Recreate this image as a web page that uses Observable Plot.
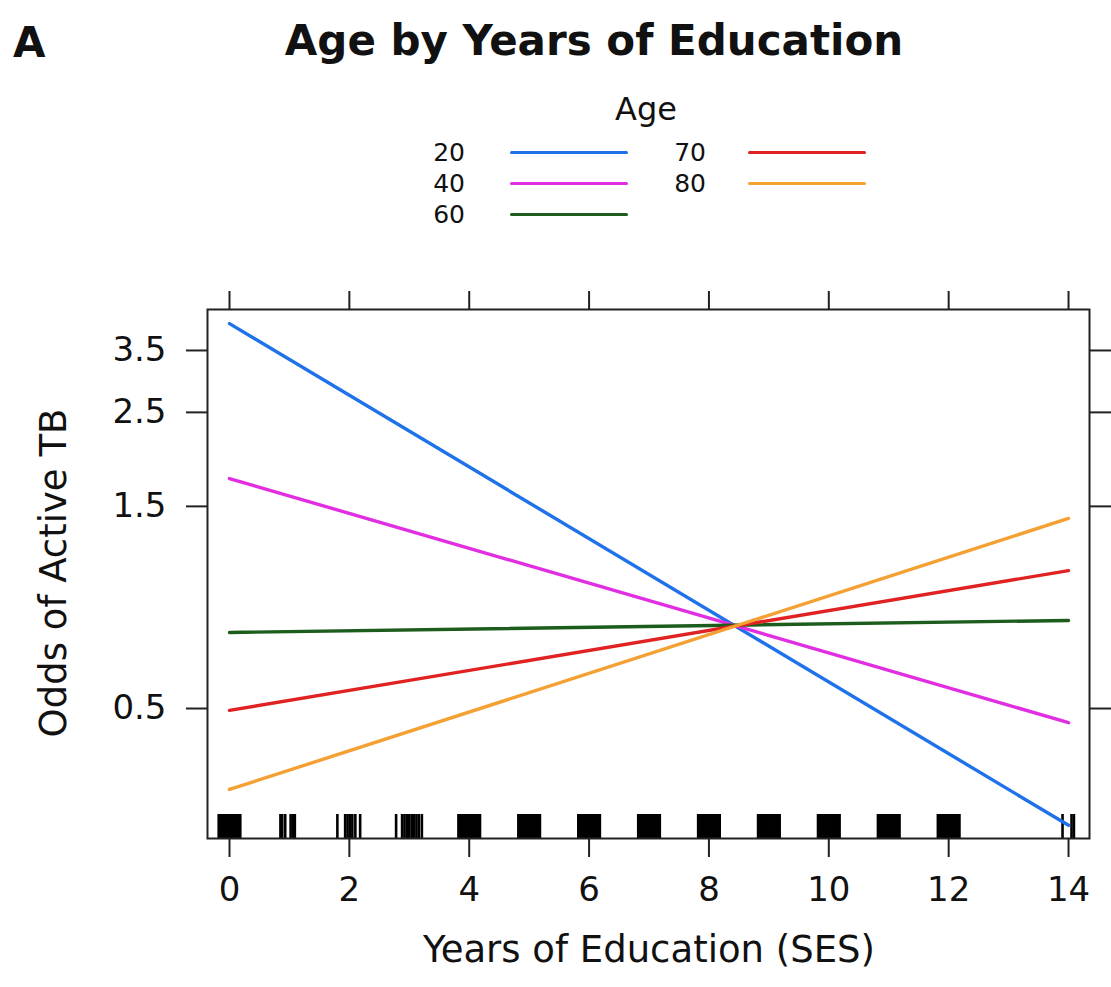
<!DOCTYPE html>
<html>
<head>
<meta charset="utf-8">
<script src="https://cdn.jsdelivr.net/npm/d3@7"></script>
<script src="https://cdn.jsdelivr.net/npm/@observablehq/plot@0.6"></script>
<style>
  html, body { margin: 0; padding: 0; background: #fff; }
  body { width: 1111px; height: 987px; position: relative; overflow: hidden; font-family: "DejaVu Sans", sans-serif; color: #111; }
  .abs { position: absolute; line-height: 1; white-space: nowrap; z-index: 2; }
  #chart { position: absolute; left: 0; top: 280px; z-index: 1; }
</style>
</head>
<body>
<div id="chart"></div>
<div class="abs" id="panel" style="left:13px; top:22px; font-size:42px; font-weight:bold;">A</div>
<div class="abs" id="title" style="left:594px; top:20px; font-size:42px; font-weight:bold; transform:translateX(-50%);">Age by Years of Education</div>
<div class="abs" id="legendTitle" style="left:646px; top:93px; font-size:32px; transform:translateX(-50%);">Age</div>
<div id="legend"></div>
<div class="abs" id="ylab" style="left:53px; top:573px; font-size:37px; transform:translate(-50%,-50%) rotate(-90deg);">Odds of Active TB</div>
<div class="abs" id="xlab" style="left:649px; top:931px; font-size:37px; transform:translateX(-50%);">Years of Education (SES)</div>
<script>
// ---- data ----
const ages = ["20", "40", "60", "70", "80"];
const ageColors = ["#1f72ea", "#e22ee2", "#1c5c1c", "#e02222", "#f5a033"];
const oddsAtZeroYears = [4.05, 1.745, 0.756, 0.495, 0.322];
const oddsAtFourteenYears = [0.265, 0.463, 0.807, 1.058, 1.405];
const educationEnds = [0, 14];
const xTicks = [0, 2, 4, 6, 8, 10, 12, 14];
const yTicks = [0.5, 1.5, 2.5, 3.5];
// rug: years of education of observations (jittered)
const rugYearsSolid = [0, 4, 5, 6, 7, 8, 9, 10, 11, 12];
const rugJitter = [-0.18, -0.15, -0.12, -0.09, -0.06, -0.03, 0, 0.03, 0.06, 0.09, 0.12, 0.15, 0.18];
const rugSparse = [0.85, 0.88, 0.93, 1.02, 1.06, 1.09,
                   1.80, 1.93, 1.97, 2.01, 2.05, 2.10, 2.18,
                   2.78, 2.88, 2.92, 2.96, 3.00, 3.04, 3.08, 3.12, 3.16, 3.21,
                   13.90, 14.05, 14.09];

// ---- build tables ----
const rows = ages.flatMap((a, i) => [
  {age: a, edu: educationEnds[0], odds: oddsAtZeroYears[i]},
  {age: a, edu: educationEnds[1], odds: oddsAtFourteenYears[i]}
]);
const rug = rugYearsSolid.flatMap(y => rugJitter.map(j => y + j)).concat(rugSparse);

// ---- legend (HTML) ----
const legend = document.getElementById("legend");
const legendCols = [{labelRight: 465, lineX: 510}, {labelRight: 706, lineX: 748}];
const legendRowsY = [152, 183, 214];
ages.forEach((a, i) => {
  const col = legendCols[i < 3 ? 0 : 1];
  const ry = legendRowsY[i < 3 ? i : i - 3];
  const lab = document.createElement("div");
  lab.className = "abs";
  lab.style.cssText = `left:${col.labelRight - 60}px; width:60px; text-align:right; top:${ry - 12}px; font-size:25px;`;
  lab.textContent = a;
  legend.appendChild(lab);
  const ln = document.createElement("div");
  ln.style.cssText = `position:absolute; left:${col.lineX}px; top:${ry - 1.5}px; width:118px; height:3.5px; border-radius:1.5px; background:${ageColors[i]};`;
  legend.appendChild(ln);
});

// ---- plot ----
const plot = Plot.plot({
  width: 1111,
  height: 707,
  marginTop: 29,
  marginBottom: 149,
  marginLeft: 207,
  marginRight: 22,
  style: {fontFamily: "DejaVu Sans, sans-serif", background: "transparent", color: "#111"},
  x: {domain: [-0.367, 14.35], label: null},
  y: {type: "log", domain: [0.2467, 4.373], label: null},
  color: {domain: ages, range: ageColors},
  marks: [
    Plot.ruleX(rug, {x: d => d, stroke: "#000", strokeWidth: 2.6, insetTop: 505}),
    Plot.line(rows, {x: "edu", y: "odds", z: "age", stroke: "age", strokeWidth: 3.4}),
    Plot.frame({stroke: "#222", strokeWidth: 2}),
    Plot.axisX(xTicks, {anchor: "bottom", tickSize: 19, tickPadding: 19, fontSize: 34, strokeWidth: 2, stroke: "#222", label: null, tickFormat: d => String(d)}),
    Plot.axisX(xTicks, {anchor: "top", tickSize: 19, strokeWidth: 2, stroke: "#222", label: null, tickFormat: () => ""}),
    Plot.axisY(yTicks, {anchor: "left", tickSize: 21, tickPadding: 20, fontSize: 34, strokeWidth: 2, stroke: "#222", label: null, tickFormat: d => d.toFixed(1)}),
    Plot.axisY(yTicks, {anchor: "right", tickSize: 21, strokeWidth: 2, stroke: "#222", label: null, tickFormat: () => ""})
  ]
});
document.getElementById("chart").appendChild(plot);
</script>
</body>
</html>
